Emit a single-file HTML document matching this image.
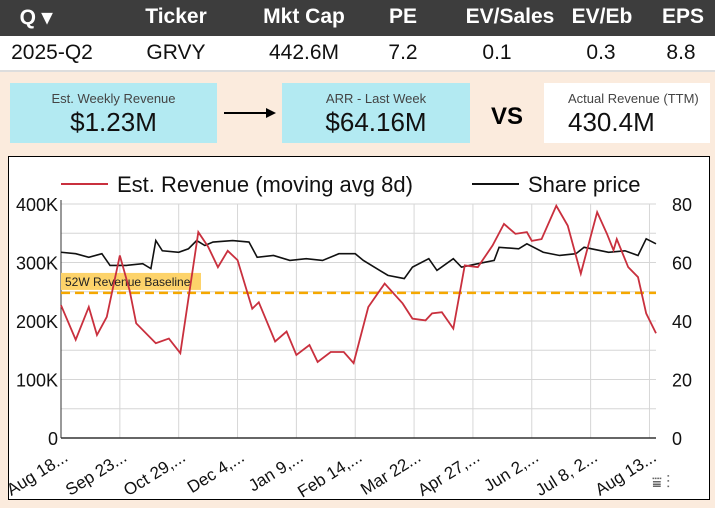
<!DOCTYPE html>
<html><head><meta charset="utf-8"><style>
body{margin:0;width:715px;height:508px;background:#fbebdd;font-family:"Liberation Sans",sans-serif;overflow:hidden;position:relative}
.hdr{position:absolute;left:0;top:0;width:715px;height:36px;background:#3d3d3d;color:#fff;font-weight:bold;font-size:21px}
.row{position:absolute;left:0;top:36px;width:715px;height:34px;background:#fff;font-size:21px;color:#111;border-bottom:2px solid #ddd}
.c{position:absolute;top:5px;transform:translateX(-50%);white-space:nowrap}
.box{position:absolute;top:83px;height:60px;text-align:center}
.box .l{font-size:13px;color:#444;margin-top:8px}
.box .v{font-size:26px;color:#111;margin-top:1px}
</style></head><body>
<div class="hdr">
<span class="c" style="left:36px">Q ▾</span>
<span class="c" style="left:176px">Ticker</span>
<span class="c" style="left:304px">Mkt Cap</span>
<span class="c" style="left:403px">PE</span>
<span class="c" style="left:510px">EV/Sales</span>
<span class="c" style="left:602px">EV/Eb</span>
<span class="c" style="left:683px">EPS</span>
</div>
<div class="row">
<span class="c" style="left:52px">2025-Q2</span>
<span class="c" style="left:176px">GRVY</span>
<span class="c" style="left:304px">442.6M</span>
<span class="c" style="left:403px">7.2</span>
<span class="c" style="left:497px">0.1</span>
<span class="c" style="left:601px">0.3</span>
<span class="c" style="left:681px">8.8</span>
</div>
<div class="box" style="left:10px;width:207px;background:#b3eaf2"><div class="l">Est. Weekly Revenue</div><div class="v">$1.23M</div></div>
<svg style="position:absolute;left:222px;top:106px" width="55" height="14"><line x1="2" y1="7" x2="45" y2="7" stroke="#000" stroke-width="2"/><polygon points="44,2 54,7 44,12" fill="#000"/></svg>
<div class="box" style="left:282px;width:188px;background:#b3eaf2"><div class="l">ARR - Last Week</div><div class="v">$64.16M</div></div>
<div style="position:absolute;left:491px;top:103px;font-weight:bold;font-size:24px">VS</div>
<div class="box" style="left:544px;width:166px;background:#fff;text-align:left"><div class="l" style="margin-left:24px">Actual Revenue (TTM)</div><div class="v" style="margin-left:24px">430.4M</div></div>
<div style="position:absolute;left:8px;top:156px;width:700px;height:342px;background:#fff;border:1px solid #000"></div>
<svg id="ch" style="position:absolute;left:9px;top:157px" width="700" height="342" viewBox="9 157 700 342"></svg>
<script>
const revDays=[0,9,17,22,28,36,42,46,58,66,73,84,90,96,102,108,117,121,131,138,144,152,157,165,173,179,188,198,209,215,223,227,233,240,247,255,264,271,278,285,288,294,303,310,318,328,334,338,340,347,353,358,364];
const revVals=[227,168,224,176,207,312,252,196,162,170,145,352,327,292,320,304,221,232,165,182,142,159,130,147,147,128,224,264,230,204,201,213,215,187,295,292,329,366,349,352,337,340,397,363,281,386,349,321,340,292,275,213,179];
const priceDays=[0,9,17,25,30,40,50,55,58,62,72,78,83,88,93,105,115,120,130,140,150,160,170,180,185,195,200,210,215,225,230,240,245,255,265,268,280,285,295,305,315,320,335,345,353,358,364];
const priceVals=[63.5,63,61.8,63,59,59,59.6,57.9,67.5,64,63.5,64.7,67.5,65.8,67,67.5,67,61.8,62.4,60.7,61.3,60.7,63,63,60.7,57.3,55.6,54.5,58.4,61.3,57.3,61.3,58.4,59.6,60.7,65.2,64.7,66.4,63.5,62.4,63,65.2,63.5,64,62.4,68.1,66.4];
const baseline=248;
const leftTicks=["0","100K","200K","300K","400K"];
const rightTicks=["0","20","40","60","80"];
const xLabels=["Aug 18...","Sep 23...","Oct 29,...","Dec 4,...","Jan 9,...","Feb 14,...","Mar 22...","Apr 27,...","Jun 2,...","Jul 8, 2...","Aug 13..."];
const X0=61,X1=656,Y0=438,Y1=204,D=364;
const x=d=>X0+d/D*(X1-X0), yl=v=>Y0-v/400*(Y0-Y1), yr=v=>Y0-v/80*(Y0-Y1);
const s=document.getElementById('ch'),NS='http://www.w3.org/2000/svg';
function mk(t,a,txt){const e=document.createElementNS(NS,t);for(const k in a)e.setAttribute(k,a[k]);if(txt!==undefined)e.textContent=txt;s.appendChild(e);return e;}
for(let i=0;i<=8;i++){const g=mk('line',{x1:X0,x2:X1,y1:yl(i*50),y2:yl(i*50),stroke:'#d6d6d6'});

}
xLabels.forEach((l,i)=>{const xx=x(i*36);const g=mk('line',{x1:xx,x2:xx,y1:Y1,y2:Y0,stroke:'#d6d6d6'});


const t=mk('text',{x:xx+8,y:Y0+22,'font-size':17,'text-anchor':'end',transform:`rotate(-32 ${xx+8} ${Y0+22})`,fill:'#111'},l);

});
mk('line',{x1:X0,x2:X0,y1:Y1-4,y2:Y0,stroke:'#333'});
mk('line',{x1:X0,x2:X1,y1:Y0,y2:Y0,stroke:'#333','stroke-width':1.5});
leftTicks.forEach((l,i)=>{const t=mk('text',{x:58,y:yl(i*100)+7,'font-size':18,'text-anchor':'end',fill:'#111'},l);

});
rightTicks.forEach((l,i)=>{const t=mk('text',{x:672,y:yr(i*20)+7,'font-size':18,fill:'#111'},l);

});
const bl=mk('line',{x1:X0,x2:X1,y1:yl(baseline),y2:yl(baseline),stroke:'#f5a800','stroke-width':2.5,'stroke-dasharray':'9,5'});


const br=mk('rect',{x:X0,y:yl(baseline)-20,width:140,height:17,fill:'#fdd36a'});


const bt=mk('text',{x:X0+4,y:yl(baseline)-7,'font-size':12,fill:'#222'},'52W Revenue Baseline');


const pp=mk('polyline',{points:priceDays.map((d,i)=>x(d)+','+yr(priceVals[i])).join(' '),fill:'none',stroke:'#111','stroke-width':1.6});


const rp=mk('polyline',{points:revDays.map((d,i)=>x(d)+','+yl(revVals[i])).join(' '),fill:'none',stroke:'#c9303e','stroke-width':1.8});


const l1=mk('line',{x1:61,x2:108,y1:184,y2:184,stroke:'#c9303e','stroke-width':2});


const lt1=mk('text',{x:117,y:192,'font-size':22,fill:'#111'},'Est. Revenue (moving avg 8d)');


const l2=mk('line',{x1:472,x2:519,y1:184,y2:184,stroke:'#111','stroke-width':2});


const lt2=mk('text',{x:528,y:192,'font-size':22,fill:'#111'},'Share price');


const ic=mk('text',{x:652,y:488,'font-size':16,fill:'#666'},'⩸  ⋮');


</script>
</body></html>
